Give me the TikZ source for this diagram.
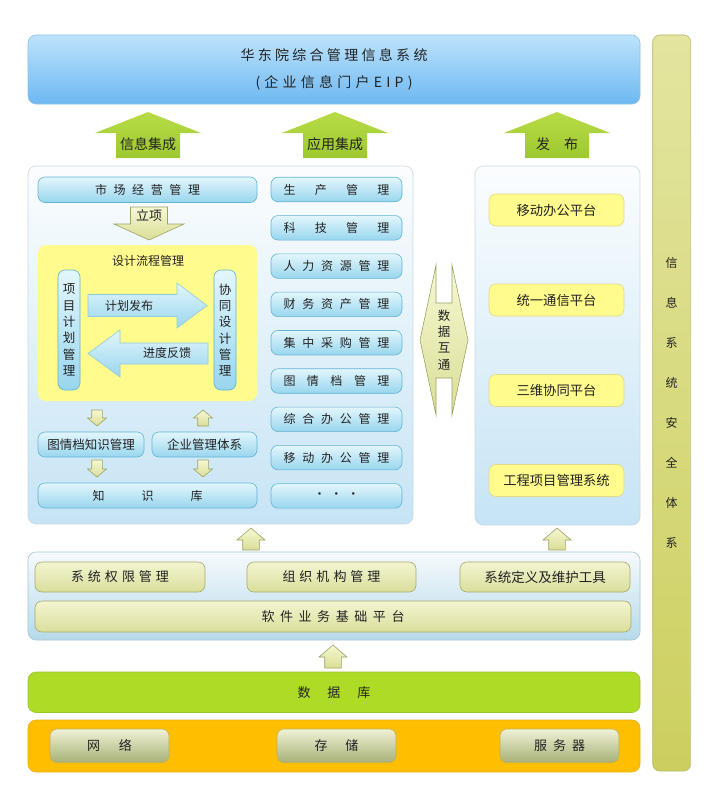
\documentclass[tikz,border=0pt]{standalone}
\usepackage{fontspec}
\setmainfont{Noto Sans CJK SC}
\usepackage{tikz}
\usetikzlibrary{positioning}
\definecolor{portaltop}{HTML}{BDE3FB}
\definecolor{portalbot}{HTML}{6DB8F2}
\definecolor{portalline}{HTML}{8EC4E8}
\definecolor{paneltop}{HTML}{FBFDFE}
\definecolor{panelbot}{HTML}{C6E4F5}
\definecolor{panelline}{HTML}{C9D9E4}
\definecolor{modtop}{HTML}{E3F6FC}
\definecolor{modbot}{HTML}{98D6EE}
\definecolor{modline}{HTML}{62B4D4}
\definecolor{flowyellow}{HTML}{FFFB8C}
\definecolor{noteline}{HTML}{E4DA86}
\definecolor{plattop}{HTML}{F3F5D0}
\definecolor{platbot}{HTML}{DADE9C}
\definecolor{platline}{HTML}{A6AA6C}
\definecolor{basetop}{HTML}{F6FAFC}
\definecolor{basebot}{HTML}{B6DAEB}
\definecolor{basepanline}{HTML}{A6C6D6}
\definecolor{dbgreen}{HTML}{AEDC26}
\definecolor{dbline}{HTML}{9CC52C}
\definecolor{hworange}{HTML}{FFBF00}
\definecolor{hwline}{HTML}{E9AC12}
\definecolor{hwtop}{HTML}{F0F2D6}
\definecolor{hwbot}{HTML}{A7B177}
\definecolor{hwboxline}{HTML}{C0AE55}
\definecolor{sectop}{HTML}{E3E5A0}
\definecolor{secbot}{HTML}{CCCF5E}
\definecolor{secline}{HTML}{B4B66A}
\definecolor{liftop}{HTML}{B8DB48}
\definecolor{liftbot}{HTML}{9DC92F}
\definecolor{steptop}{HTML}{F6F8D2}
\definecolor{stepbot}{HTML}{DADE96}
\definecolor{stepline}{HTML}{9EA266}
\definecolor{inktext}{HTML}{222222}
\tikzset{
  portalbox/.style={
    rectangle,
    rounded corners=8pt,
    draw=portalline,
    top color=portaltop,
    bottom color=portalbot,
    line width=0.6pt,
    align=center,
    text=inktext,
    font=\fontsize{14}{27}\selectfont
  },
  panelbox/.style={rectangle, rounded corners=8pt, draw=panelline, top color=paneltop, bottom color=panelbot, line width=0.6pt},
  basebox/.style={panelbox, draw=basepanline, top color=basetop, bottom color=basebot},
  modbox/.style={
    rectangle,
    rounded corners=7pt,
    draw=modline,
    top color=modtop,
    bottom color=modbot,
    line width=0.6pt,
    inner sep=0pt,
    text=inktext,
    font=\fontsize{12}{14}\selectfont
  },
  modvert/.style={modbox, align=center, font=\fontsize{12.5}{16.3}\selectfont},
  designbox/.style={rectangle, rounded corners=8pt, fill=flowyellow},
  notebox/.style={rectangle, rounded corners=7pt, fill=flowyellow, draw=noteline, line width=0.6pt, text=inktext, font=\fontsize{13.3}{15}\selectfont},
  platbox/.style={modbox, draw=platline, top color=plattop, bottom color=platbot, font=\fontsize{13}{15}\selectfont},
  dbbox/.style={rectangle, rounded corners=8pt, fill=dbgreen, draw=dbline, line width=0.6pt, text=inktext, font=\fontsize{13}{15}\selectfont},
  hwpanel/.style={rectangle, rounded corners=8pt, fill=hworange, draw=hwline, line width=0.6pt},
  hwbox/.style={rectangle, rounded corners=7pt, top color=hwtop, bottom color=hwbot, draw=hwboxline, line width=0.6pt, text=inktext, font=\fontsize{13}{15}\selectfont},
  secbar/.style={rectangle, rounded corners=7pt, top color=sectop, bottom color=secbot, draw=secline, line width=0.6pt, align=center, text=inktext, font=\fontsize{12}{40}\selectfont},
  liftarrow/.style={top color=liftop, bottom color=liftbot},
  steparrow/.style={top color=steptop, bottom color=stepbot, draw=stepline, line width=0.6pt},
  flowarrow/.style={top color=modtop, bottom color=modbot, draw=modline!70, line width=0.6pt},
  arrowlabel/.style={inner sep=0pt, text=inktext, font=\fontsize{12}{14}\selectfont}
}
\newcommand{\spreadtext}[2]{\makebox[#2]{#1}}
\newcommand{\blockvarrow}[7]{\path[#1] (#2,#3) -- (#2+#6,#4) -- (#2+#7,#4) -- (#2+#7,#5) -- (#2-#7,#5) -- (#2-#7,#4) -- (#2-#6,#4) -- cycle;}
\newcommand{\blockharrow}[7]{\path[#1] (#3,#2) -- (#4,#2-#6) -- (#4,#2-#7) -- (#5,#2-#7) -- (#5,#2+#7) -- (#4,#2+#7) -- (#4,#2+#6) -- cycle;}
\begin{document}
\begin{tikzpicture}[x=1pt,y=-1pt]
\useasboundingbox (0,0) rectangle (713,800);
\node[portalbox, minimum width=612pt, minimum height=69pt] (portal) at (334,69.5) {\spreadtext{华\hfill 东\hfill 院\hfill 综\hfill 合\hfill 管\hfill 理\hfill 信\hfill 息\hfill 系\hfill 统}{187pt}\\\spreadtext{(\hfill 企\hfill 业\hfill 信\hfill 息\hfill 门\hfill 户\hfill E\hfill I\hfill P\hfill )}{157pt}};
\node[secbar, minimum width=38pt, minimum height=736pt] (security) at (671.7,403) {信\\息\\系\\统\\安\\全\\体\\系};
\blockvarrow{liftarrow}{148}{112}{133}{158}{53}{32}
\blockvarrow{liftarrow}{335}{112}{133}{158}{53}{32}
\blockvarrow{liftarrow}{557}{112}{133}{158}{53}{32}
\node[arrowlabel, font=\fontsize{14}{16}\selectfont] (lblinfo) at (148,144) {信息集成};
\node[arrowlabel, font=\fontsize{14}{16}\selectfont] (lblapp) at (335,144) {应用集成};
\node[arrowlabel, font=\fontsize{14}{16}\selectfont] (lblpub) at (557,144) {\spreadtext{发\hfill 布}{42pt}};
\node[panelbox, minimum width=385pt, minimum height=358pt] (apppanel) at (220.5,345) {};
\node[panelbox, minimum width=165pt, minimum height=359pt] (pubpanel) at (557.5,345.5) {};
\node[modbox, minimum width=219pt, minimum height=25.5pt] (market) at (147.5,189.75) {\spreadtext{市\hfill 场\hfill 经\hfill 营\hfill 管\hfill 理}{105pt}};
\blockvarrow{steparrow}{149}{240}{224}{207}{35}{18.5}
\node[arrowlabel, font=\fontsize{13}{15}\selectfont] (lblproject) at (149,216) {立项};
\node[designbox, minimum width=219pt, minimum height=156pt] (design) at (147.5,323) {};
\node[arrowlabel] (designtitle) at (148,261) {设计流程管理};
\node[modvert, minimum width=22pt, minimum height=120pt] (plan) at (69,330) {项\\目\\计\\划\\管\\理};
\node[modvert, minimum width=22pt, minimum height=120pt] (cowork) at (225,330) {协\\同\\设\\计\\管\\理};
\blockharrow{flowarrow}{305.5}{207}{177}{88}{22.5}{11}
\blockharrow{flowarrow}{353.5}{88}{120}{208}{23.5}{10.5}
\node[arrowlabel] (lblrelease) at (129,306) {计划发布};
\node[arrowlabel] (lblfeedback) at (167,353) {进度反馈};
\blockvarrow{steparrow}{97}{426}{418}{410}{9.5}{5.3}
\blockvarrow{steparrow}{203}{410}{418}{426}{9.5}{5.3}
\node[modbox, minimum width=106pt, minimum height=25pt, font=\fontsize{12.5}{14}\selectfont] (archive) at (91,444.5) {图情档知识管理};
\node[modbox, minimum width=105pt, minimum height=25pt, font=\fontsize{12.5}{14}\selectfont] (mgmtsys) at (204.5,444.5) {企业管理体系};
\blockvarrow{steparrow}{97}{477}{469}{460}{9.5}{5.3}
\blockvarrow{steparrow}{203}{477}{469}{460}{9.5}{5.3}
\node[modbox, minimum width=219pt, minimum height=25pt] (knowledge) at (147.5,495.5) {\spreadtext{知\hfill 识\hfill 库}{110pt}};
\foreach \lbl [count=\i from 0] in {{生\hfill 产\hfill 管\hfill 理}, {科\hfill 技\hfill 管\hfill 理}, {人\hfill 力\hfill 资\hfill 源\hfill 管\hfill 理}, {财\hfill 务\hfill 资\hfill 产\hfill 管\hfill 理}, {集\hfill 中\hfill 采\hfill 购\hfill 管\hfill 理}, {图\hfill 情\hfill 档\hfill 管\hfill 理}, {综\hfill 合\hfill 办\hfill 公\hfill 管\hfill 理}, {移\hfill 动\hfill 办\hfill 公\hfill 管\hfill 理}, {\hfill ·\hspace{5pt}·\hspace{5pt}·\hfill}}
  \node[modbox, minimum width=131pt, minimum height=24.5pt] (mod\i) at (336.5,189.5+38.3*\i) {\spreadtext{\lbl}{106pt}};
\path[steparrow] (436,265) -- (420,340) -- (436,415) -- (436,378) -- (452,378) -- (452,415) -- (468,340) -- (452,265) -- (452,303) -- (436,303) -- cycle;
\node[arrowlabel, align=center, font=\fontsize{12.5}{16.3}\selectfont] (datalink) at (444,340) {数\\据\\互\\通};
\node[notebox, minimum width=135pt, minimum height=32pt] (mobile) at (556.5,210) {移动办公平台};
\node[notebox, minimum width=135pt, minimum height=32pt] (unified) at (556.5,300) {统一通信平台};
\node[notebox, minimum width=135pt, minimum height=32pt] (threed) at (556.5,390.5) {三维协同平台};
\node[notebox, minimum width=135pt, minimum height=32pt] (engproj) at (556.5,480.5) {工程项目管理系统};
\blockvarrow{steparrow}{251}{528}{540}{550}{14}{8.3}
\blockvarrow{steparrow}{557}{528}{540}{550}{14}{8.3}
\node[basebox, minimum width=612pt, minimum height=88pt] (basepanel) at (334,596) {};
\node[platbox, minimum width=170pt, minimum height=30pt] (rights) at (120,577) {\spreadtext{系\hfill 统\hfill 权\hfill 限\hfill 管\hfill 理}{98pt}};
\node[platbox, minimum width=169pt, minimum height=30pt] (orgs) at (331.5,577) {\spreadtext{组\hfill 织\hfill 机\hfill 构\hfill 管\hfill 理}{98pt}};
\node[platbox, minimum width=170pt, minimum height=30pt, font=\fontsize{13.5}{15}\selectfont] (tools) at (545,577) {系统定义及维护工具};
\node[platbox, minimum width=596pt, minimum height=31pt] (foundation) at (333,616.5) {\spreadtext{软\hfill 件\hfill 业\hfill 务\hfill 基\hfill 础\hfill 平\hfill 台}{143pt}};
\blockvarrow{steparrow}{333}{645}{657}{668}{14}{8.3}
\node[dbbox, minimum width=612pt, minimum height=40.5pt] (database) at (334,692.25) {\spreadtext{数\hfill 据\hfill 库}{73pt}};
\node[hwpanel, minimum width=612pt, minimum height=52pt] (hardware) at (334,746) {};
\node[hwbox, minimum width=119pt, minimum height=33.5pt] (network) at (109.5,745.75) {\spreadtext{网\hfill 络}{45pt}};
\node[hwbox, minimum width=119pt, minimum height=33.5pt] (storage) at (336.5,745.75) {\spreadtext{存\hfill 储}{44pt}};
\node[hwbox, minimum width=119pt, minimum height=33.5pt] (server) at (559.5,745.75) {\spreadtext{服\hfill 务\hfill 器}{51pt}};
\end{tikzpicture}
\end{document}
